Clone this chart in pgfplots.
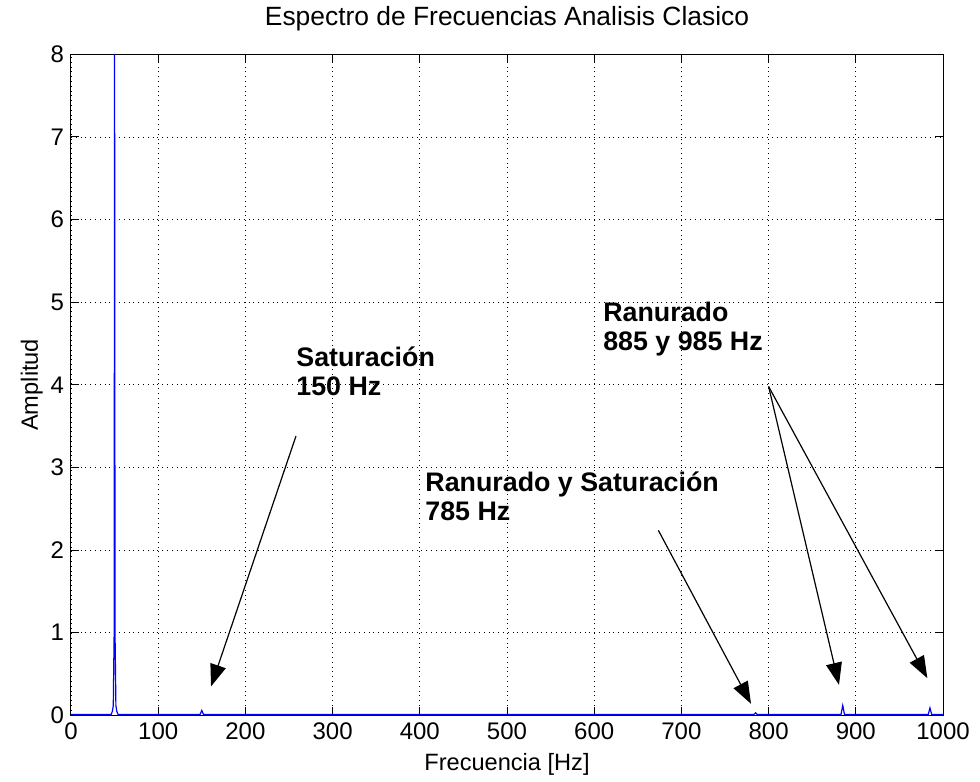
\documentclass[border=0pt]{standalone}
\usepackage{fontspec}
\setmainfont{Liberation Sans}
\usepackage{pgfplots}
\pgfplotsset{compat=1.18}
\usetikzlibrary{arrows.meta}
\begin{document}
\begin{tikzpicture}
\begin{axis}[
  width=436pt, height=330.5pt,
  scale only axis,
  xmin=0, xmax=1000, ymin=0, ymax=8,
  xtick={0,100,...,1000}, ytick={0,1,...,8},
  tick align=inside,
  grid=major,
  grid style={black, dotted, line width=0.4pt},
  axis line style={black, line width=0.5pt},
  tick style={black, line width=0.5pt},
  major tick length=4pt,
  ticklabel style={font=\fontsize{12}{14}\selectfont},
  /pgf/number format/assume math mode=true,
  /pgf/number format/1000 sep={},
  xlabel={Frecuencia [Hz]},
  ylabel={Amplitud},
  label style={font=\fontsize{11.8}{14}\selectfont},
  ylabel style={yshift=-3pt},
  title={Espectro de Frecuencias Analisis Clasico},
  title style={font=\fontsize{13.2}{15}\selectfont, yshift=2pt},
  clip=false,
]
\addplot[blue, line width=0.6pt] coordinates {
  (0,0.01) (46,0.01) (47.5,0.05) (48.5,0.12) (49.5,1.0) (50,8.0) (50.5,1.0)
  (51.5,0.12) (52.5,0.05) (54,0.01)
  (148,0.01) (150,0.06) (152,0.01)
  (783,0.01) (785,0.03) (787,0.01)
  (883,0.01) (885,0.12) (887,0.01)
  (983,0.01) (985,0.09) (987,0.01)
  (1000,0.01)
};
\tikzset{ann/.style={font=\bfseries\fontsize{13.4}{14.5}\selectfont, anchor=west, align=left, inner sep=0pt},
  arr/.style={line width=0.6pt, -{Triangle[length=11pt, width=8pt]}}}
\node[ann] at (axis cs:258,4.16) {Saturación\\150 Hz};
\node[ann] at (axis cs:406,2.65) {Ranurado y Saturación\\785 Hz};
\node[ann] at (axis cs:610,4.67) {Ranurado\\885 y 985 Hz};
\draw[arr] (axis cs:258,3.38) -- (axis cs:160.6,0.35);
\draw[arr] (axis cs:673.5,2.24) -- (axis cs:779.8,0.14);
\draw[arr] (axis cs:800,3.98) -- (axis cs:880.7,0.37);
\draw[arr] (axis cs:800,3.98) -- (axis cs:982,0.45);
\path (rel axis cs:-0.0814,-0.0998) rectangle (rel axis cs:1.0424,1.0802);
\end{axis}
\end{tikzpicture}
\end{document}
